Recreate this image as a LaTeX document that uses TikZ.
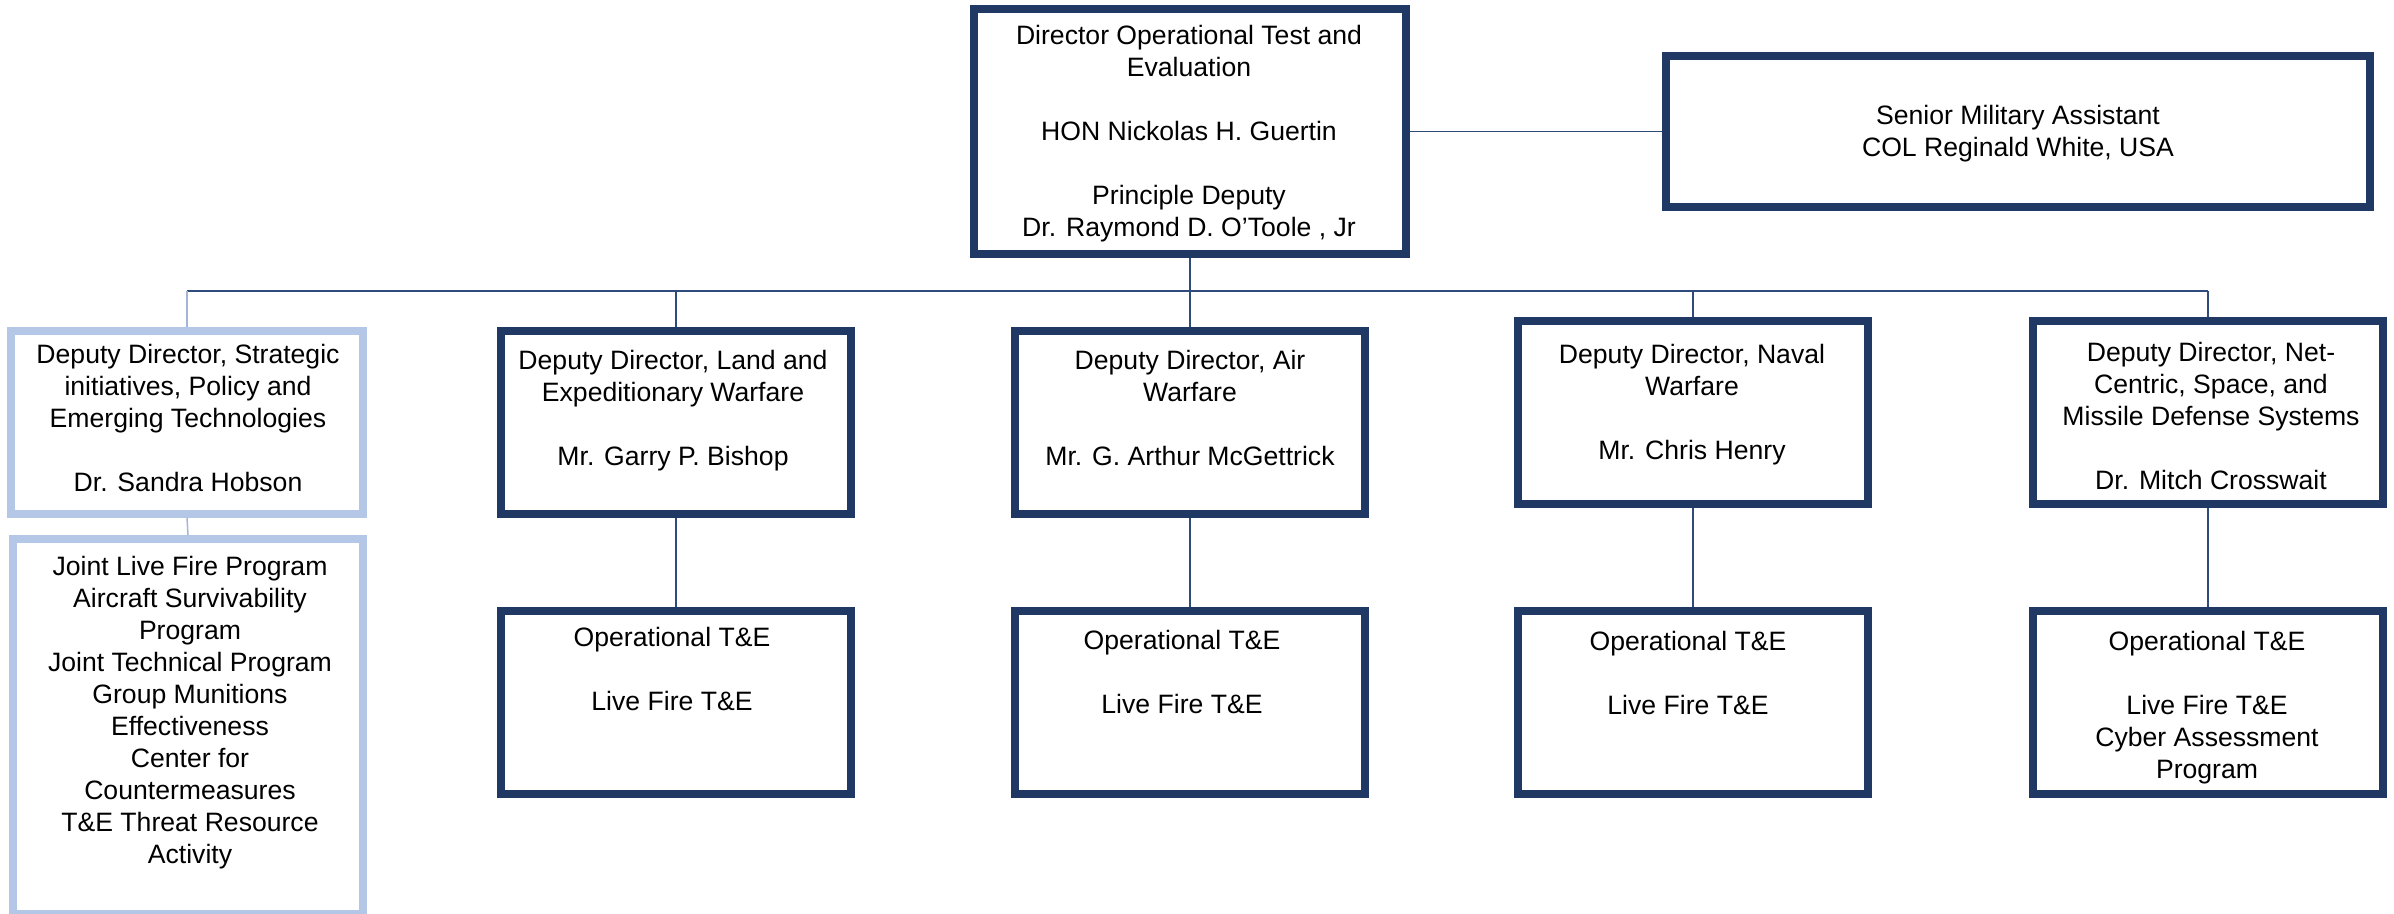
\documentclass[tikz,border=0pt]{standalone}
\usepackage{fontspec}
\setmainfont{Liberation Sans}
\definecolor{navy}{HTML}{203864}
\definecolor{lblue}{HTML}{B4C7E7}
\definecolor{wirec}{HTML}{2F4B7C}
\definecolor{lwirec}{HTML}{A3B6D8}
\begin{document}
\begin{tikzpicture}[x=0.5pt,y=-0.5pt,
 dbox/.style={draw=navy,line width=4pt,fill=white,inner sep=0pt,minimum width=175pt,minimum height=91.5pt},
 lbox/.style={draw=lblue,line width=4pt,fill=white,inner sep=0pt,minimum width=176pt,minimum height=91.5pt},
 txt/.style={align=center,font=\fontsize{13.3}{16}\selectfont,inner sep=0pt,execute at begin node=\strut,execute at end node=\strut},
 wire/.style={draw=wirec,line width=0.75pt},
 lwire/.style={draw=lwirec,line width=0.75pt}]
\fill[white] (0,0) rectangle (2394,914);
\useasboundingbox (0,0) rectangle (2394,914);
% boxes
\node[dbox,minimum width=216pt,minimum height=122.5pt] (dir) at (1190,131.5) {};
\node[dbox,minimum width=352pt,minimum height=75.5pt] (sen) at (2018,131.5) {};
\node[lbox] (sdir) at (187,422.5) {};
\node[lbox,minimum width=175pt,minimum height=187.5pt] (prog) at (188,726.5) {};
\node[dbox] (land) at (676,422.5) {};
\node[dbox] (air) at (1190,422.5) {};
\node[dbox] (naval) at (1693,413) {};
\node[dbox] (net) at (2208,413) {};
\node[dbox] (landl) at (676,702.5) {};
\node[dbox] (airl) at (1190,702.5) {};
\node[dbox] (navall) at (1693,702.5) {};
\node[dbox] (netl) at (2208,702.5) {};
% texts
\node[txt] (dirT) at (1189,136) {Director Operational Test and\\Evaluation\\[16pt]HON Nickolas H. Guertin\\[16pt]Principle Deputy\\Dr. Raymond D. O’Toole , Jr};
\node[txt] (senT) at (2018,135.5) {Senior Military Assistant\\COL Reginald White, USA};
\node[txt] (sdirT) at (188,423) {Deputy Director, Strategic\\initiatives, Policy and\\Emerging Technologies\\[16pt]Dr. Sandra Hobson};
\node[txt] (progT) at (190,715) {Joint Live Fire Program\\Aircraft Survivability\\Program\\Joint Technical Program\\Group Munitions\\Effectiveness\\Center for\\Countermeasures\\T\&E Threat Resource\\Activity};
\node[txt] (landT) at (673,412.5) {Deputy Director, Land and\\Expeditionary Warfare\\[16pt]Mr. Garry P. Bishop};
\node[txt] (airT) at (1190,412.5) {Deputy Director, Air\\Warfare\\[16pt]Mr. G. Arthur McGettrick};
\node[txt] (navalT) at (1692,407) {Deputy Director, Naval\\Warfare\\[16pt]Mr. Chris Henry};
\node[txt] (netT) at (2211,421) {Deputy Director, Net-\\Centric, Space, and\\Missile Defense Systems\\[16pt]Dr. Mitch Crosswait};
\node[txt] (landlT) at (672,674) {Operational T\&E\\[16pt]Live Fire T\&E};
\node[txt] (airlT) at (1182,676.5) {Operational T\&E\\[16pt]Live Fire T\&E};
\node[txt] (navallT) at (1688,678) {Operational T\&E\\[16pt]Live Fire T\&E};
\node[txt] (netlT) at (2207,710) {Operational T\&E\\[16pt]Live Fire T\&E\\Cyber Assessment\\Program};
% connectors
\coordinate (busL) at (187,291);
\coordinate (busR) at (2208,291);
\draw[wire] (dir.east) -- (sen.west);
\draw[wire] (busL) -- (busR);
\draw[wire] (dir.south) -- (air.north);
\draw[lwire] (sdir.north) -- (sdir.north |- busL);
\draw[wire] (land.north) -- (land.north |- busL);
\draw[wire] (naval.north) -- (naval.north |- busL);
\draw[wire] (net.north) -- (busR);
\draw[lwire] (sdir.south) -- (prog.north);
\draw[wire] (land.south) -- (landl.north);
\draw[wire] (air.south) -- (airl.north);
\draw[wire] (naval.south) -- (navall.north);
\draw[wire] (net.south) -- (netl.north);
\end{tikzpicture}
\end{document}
